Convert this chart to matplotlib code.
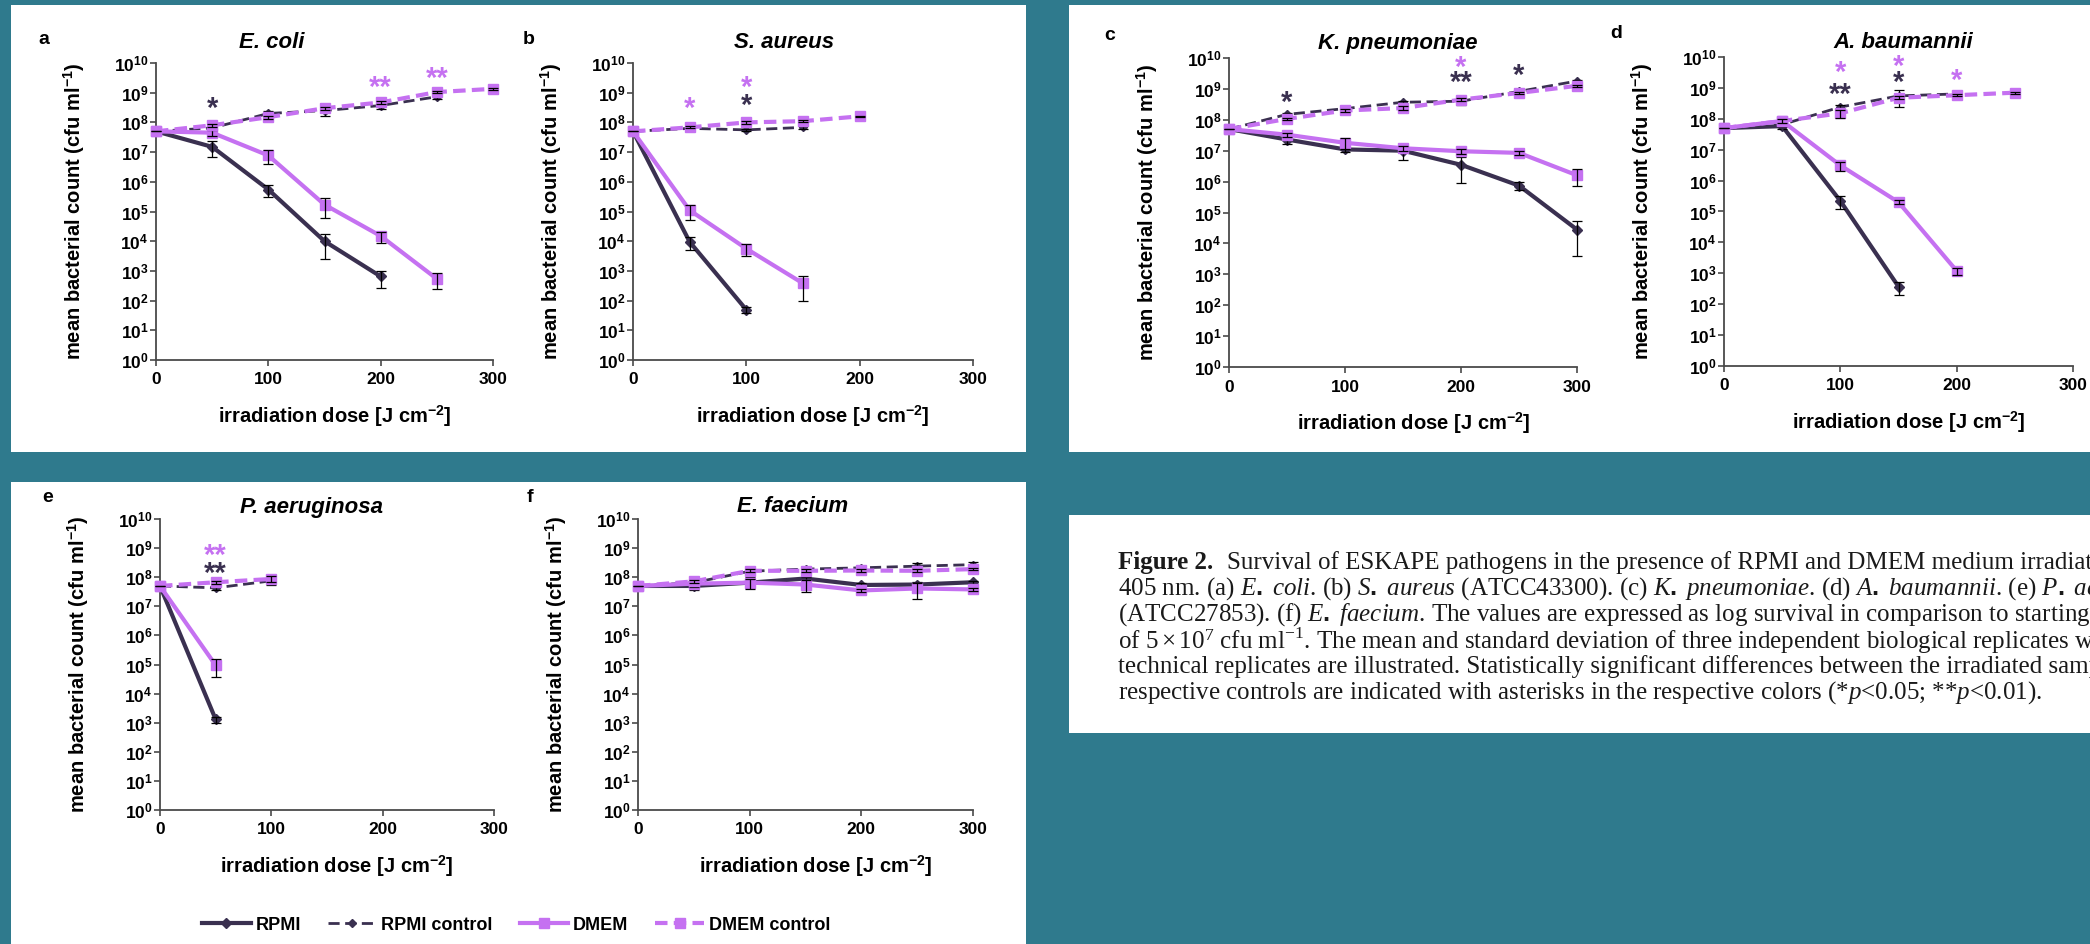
import numpy as np
import matplotlib
matplotlib.use('Agg')
import matplotlib.pyplot as plt
from matplotlib.patches import Rectangle
from matplotlib.ticker import FixedLocator, FuncFormatter, NullLocator

# irradiation doses [J cm-2]
dose = [0, 50, 100, 150, 200, 250, 300]

# (a) E. coli
ecoli_rpmi = [5e7, 1.5e7, 5.5e5, 1.0e4, 6.5e2]
ecoli_rpmi_sd = [0, 0.8e7, 2.5e5, 0.75e4, 3.8e2]
ecoli_rpmi_ctrl = [5e7, 6.5e7, 2.0e8, 2.5e8, 3.7e8, 7.3e8]
ecoli_rpmi_ctrl_sd = [0, 1e7, 0.5e8, 0.8e8, 0.8e8, 1.2e8]
ecoli_dmem = [5e7, 4.5e7, 7.7e6, 1.7e5, 1.5e4, 5.4e2]
ecoli_dmem_sd = [0, 1e7, 3.8e6, 1.1e5, 0.6e4, 2.9e2]
ecoli_dmem_ctrl = [5e7, 8.0e7, 1.5e8, 3.0e8, 4.7e8, 1.05e9, 1.35e9]
ecoli_dmem_ctrl_sd = [0, 1e7, 2e7, 4e7, 6e7, 1e8, 1e8]
ecoli_stars = [(50, 8.65, '*', 0), (200, 9.38, '**', 1), (250, 9.66, '**', 1)]

# (b) S. aureus
saur_rpmi = [5e7, 9.5e3, 49]
saur_rpmi_sd = [0, 4.5e3, 10]
saur_rpmi_ctrl = [5e7, 6.3e7, 5.6e7, 6.8e7]
saur_rpmi_ctrl_sd = [0, 5e6, 5e6, 8e6]
saur_dmem = [5e7, 1.1e5, 5.6e3, 3.8e2]
saur_dmem_sd = [0, 6e4, 2.4e3, 2.8e2]
saur_dmem_ctrl = [5e7, 6.8e7, 1.0e8, 1.1e8, 1.6e8]
saur_dmem_ctrl_sd = [0, 5e6, 1e7, 1e7, 1e7]
saur_stars = [(50, 8.67, '*', 1), (100, 9.37, '*', 1), (100, 8.76, '*', 0)]

# (c) K. pneumoniae
kpn_rpmi = [5e7, 2.3e7, 1.1e7, 1.0e7, 3.5e6, 7.4e5, 2.8e4]
kpn_rpmi_sd = [0, 0.6e7, 0.2e7, 0.5e7, 2.6e6, 2e5, 2.4e4]
kpn_rpmi_ctrl = [5e7, 1.5e8, 2.3e8, 3.7e8, 4.0e8, 8.3e8, 1.8e9]
kpn_rpmi_ctrl_sd = [0, 2e7, 3e7, 5e7, 1e8, 1e8, 2e8]
kpn_dmem = [5e7, 3.3e7, 1.8e7, 1.2e7, 9.6e6, 8.5e6, 1.6e6]
kpn_dmem_sd = [0, 0.5e7, 0.7e7, 0.2e7, 0.2e7, 0.15e7, 0.9e6]
kpn_dmem_ctrl = [5e7, 1.07e8, 2.0e8, 2.4e8, 4.5e8, 7.4e8, 1.26e9]
kpn_dmem_ctrl_sd = [0, 1e7, 2e7, 3e7, 5e7, 5e7, 1e8]
kpn_stars = [(50, 8.74, '*', 0), (200, 9.89, '*', 1), (200, 9.41, '**', 0), (250, 9.62, '*', 0)]

# (d) A. baumannii
abau_rpmi = [5e7, 5.8e7, 2.2e5, 3.7e2]
abau_rpmi_sd = [0, 1e7, 1e5, 1.7e2]
abau_rpmi_ctrl = [5e7, 6.5e7, 2.4e8, 5.5e8, 6.4e8]
abau_rpmi_ctrl_sd = [0, 1e7, 3e7, 3e8, 5e7]
abau_dmem = [5e7, 8.5e7, 3.1e6, 2.0e5, 1.2e3]
abau_dmem_sd = [0, 1e7, 1e6, 3e4, 3e2]
abau_dmem_ctrl = [5e7, 8.5e7, 1.5e8, 4.8e8, 5.8e8, 7.0e8]
abau_dmem_ctrl_sd = [0, 1e7, 4e7, 5e7, 5e7, 5e7]
abau_stars = [(100, 9.68, '*', 1), (100, 8.99, '**', 0), (150, 9.87, '*', 1),
              (150, 9.36, '*', 0), (200, 9.42, '*', 1)]

# (e) P. aeruginosa
paer_rpmi = [5e7, 1.3e3]
paer_rpmi_sd = [0, 3e2]
paer_rpmi_ctrl = [5e7, 4.3e7, 7.5e7]
paer_rpmi_ctrl_sd = [0, 8e6, 2e7]
paer_dmem = [5e7, 9.4e4]
paer_dmem_sd = [0, 5.8e4]
paer_dmem_ctrl = [5e7, 6.7e7, 8.7e7]
paer_dmem_ctrl_sd = [0, 1e7, 2e7]
paer_stars = [(50, 8.95, '**', 1), (50, 8.34, '**', 0)]

# (f) E. faecium
efm_rpmi = [5e7, 5.0e7, 6.5e7, 9.0e7, 5.4e7, 5.6e7, 6.7e7]
efm_rpmi_sd = [0, 1.5e7, 1e7, 1e7, 1e7, 1.5e7, 1e7]
efm_rpmi_ctrl = [5e7, 6.5e7, 1.6e8, 1.9e8, 2.1e8, 2.4e8, 2.7e8]
efm_rpmi_ctrl_sd = [0, 1e7, 6e7, 4e7, 4e7, 6e7, 6e7]
efm_dmem = [5e7, 6.0e7, 6.5e7, 5.6e7, 3.5e7, 4.1e7, 3.8e7]
efm_dmem_sd = [0, 1.5e7, 2.5e7, 2.5e7, 5e6, 2.3e7, 5e6]
efm_dmem_ctrl = [5e7, 7.2e7, 1.66e8, 1.66e8, 1.7e8, 1.66e8, 1.9e8]
efm_dmem_ctrl_sd = [0, 1e7, 2e7, 2e7, 2e7, 2e7, 2e7]

series_labels = ['RPMI', 'RPMI control', 'DMEM', 'DMEM control']

TEAL = '#2F7A8D'
DARK = '#3A3050'
MAG = '#C571F1'

plt.rcParams['font.family'] = 'Liberation Sans'
plt.rcParams['mathtext.fontset'] = 'custom'
plt.rcParams['mathtext.rm'] = 'Liberation Sans:bold'
plt.rcParams['mathtext.bf'] = 'Liberation Sans:bold'
plt.rcParams['mathtext.sf'] = 'Liberation Serif'
plt.rcParams['mathtext.it'] = 'Liberation Serif:italic'
plt.rcParams['mathtext.default'] = 'rm'
plt.rcParams['lines.scale_dashes'] = False

W, H = 2090, 944
fig = plt.figure(figsize=(W / 100, H / 100), dpi=100)
fig.patch.set_facecolor(TEAL)


def box(l, t, r, b):
    fig.add_artist(Rectangle((l / W, 1 - b / H), (r - l) / W, (b - t) / H,
                             transform=fig.transFigure, facecolor='white',
                             edgecolor='none', zorder=-1))


box(11, 5, 1026, 452)
box(1069, 5, 2090, 452)
box(11, 482, 1026, 944)
box(1069, 515, 2090, 733)

# letter, title, axes (l, t, r, b) px, title x px, title y px, letter xy px
panels = [
    ('a', 'E. coli', (156, 63, 493, 360), 272, 42, (44, 40),
     [ecoli_rpmi, ecoli_rpmi_ctrl, ecoli_dmem, ecoli_dmem_ctrl],
     [ecoli_rpmi_sd, ecoli_rpmi_ctrl_sd, ecoli_dmem_sd, ecoli_dmem_ctrl_sd], ecoli_stars),
    ('b', 'S. aureus', (633, 63, 973, 360), 784, 42, (529, 40),
     [saur_rpmi, saur_rpmi_ctrl, saur_dmem, saur_dmem_ctrl],
     [saur_rpmi_sd, saur_rpmi_ctrl_sd, saur_dmem_sd, saur_dmem_ctrl_sd], saur_stars),
    ('c', 'K. pneumoniae', (1229, 58, 1577, 367), 1398, 43, (1110, 35),
     [kpn_rpmi, kpn_rpmi_ctrl, kpn_dmem, kpn_dmem_ctrl],
     [kpn_rpmi_sd, kpn_rpmi_ctrl_sd, kpn_dmem_sd, kpn_dmem_ctrl_sd], kpn_stars),
    ('d', 'A. baumannii', (1724, 57, 2073, 366), 1903, 43, (1616, 33),
     [abau_rpmi, abau_rpmi_ctrl, abau_dmem, abau_dmem_ctrl],
     [abau_rpmi_sd, abau_rpmi_ctrl_sd, abau_dmem_sd, abau_dmem_ctrl_sd], abau_stars),
    ('e', 'P. aeruginosa', (160, 519, 494, 810), 312, 507, (48, 497),
     [paer_rpmi, paer_rpmi_ctrl, paer_dmem, paer_dmem_ctrl],
     [paer_rpmi_sd, paer_rpmi_ctrl_sd, paer_dmem_sd, paer_dmem_ctrl_sd], paer_stars),
    ('f', 'E. faecium', (638, 519, 973, 810), 793, 507, (530, 497),
     [efm_rpmi, efm_rpmi_ctrl, efm_dmem, efm_dmem_ctrl],
     [efm_rpmi_sd, efm_rpmi_ctrl_sd, efm_dmem_sd, efm_dmem_ctrl_sd], []),
]

styles = [
    dict(color=DARK, lw=3.0, ls='-', marker='D', ms=5.5),
    dict(color=DARK, lw=2.0, ls=(0, (8, 4)), marker='D', ms=4.5),
    dict(color=MAG, lw=3.0, ls='-', marker='s', ms=7.5),
    dict(color=MAG, lw=3.0, ls=(0, (9, 4.5)), marker='s', ms=7.5),
]
star_colors = [DARK, MAG]

handles = None
for letter, title, (l, t, r, b), tx, ty, (lx, ly), ys, sds, stars in panels:
    ax = fig.add_axes([l / W, 1 - b / H, (r - l) / W, (b - t) / H])
    lines = []
    for k, (y, sd, st) in enumerate(zip(ys, sds, styles)):
        x = dose[:len(y)]
        ln, = ax.plot(x, y, color=st['color'], lw=st['lw'], ls=st['ls'],
                      marker=st['marker'], ms=st['ms'], mfc=st['color'],
                      mec=st['color'], zorder=2 + k, clip_on=False)
        ax.errorbar(x, y, yerr=sd, fmt='none', ecolor='black', elinewidth=0.9,
                    capsize=3.5, capthick=0.9, zorder=2.5 + k, clip_on=False)
        lines.append(ln)
    if handles is None:
        handles = lines
    # significance asterisks (glyph sits high, so nudge down a bit)
    for sx, sy, s, c in stars:
        ax.annotate(s, (sx, 10 ** sy), xytext=(0, -4.5), textcoords='offset points',
                    color=star_colors[c], ha='center', va='center',
                    fontsize=21, fontweight='bold')

    ax.set_yscale('log')
    ax.set_ylim(1, 1e10)
    ax.set_xlim(0, 300)
    ax.yaxis.set_major_locator(FixedLocator([10.0 ** k for k in range(11)]))
    ax.yaxis.set_minor_locator(NullLocator())
    ax.yaxis.set_major_formatter(FuncFormatter(lambda v, p: r'$10^{%d}$' % round(np.log10(v))))
    ax.set_xticks([0, 100, 200, 300])
    for s in ['top', 'right']:
        ax.spines[s].set_visible(False)
    for s in ['left', 'bottom']:
        ax.spines[s].set_color('#4a4a4a')
        ax.spines[s].set_linewidth(1.3)
    ax.tick_params(axis='both', direction='out', length=4, width=1.2, color='#4a4a4a',
                   labelsize=12.5)
    ax.tick_params(axis='x', pad=5)
    ax.tick_params(axis='y', pad=1.5)
    for lab in ax.get_xticklabels():
        lab.set_fontweight('bold')
    ax.set_xlabel(r'irradiation dose [J cm$^{-2}$]', fontsize=14.5, fontweight='bold', va='center')
    ax.xaxis.set_label_coords(0.53, -56 / (b - t))
    ax.set_ylabel(r'mean bacterial count (cfu ml$^{-1}$)', fontsize=14.5, fontweight='bold', va='center')
    ax.yaxis.set_label_coords(-82 / (r - l), 0.5)

    fig.text(tx / W, 1 - ty / H, title, fontsize=16, fontweight='bold', style='italic',
             ha='center', va='center')
    fig.text(lx / W, 1 - ly / H, letter, fontsize=14, fontweight='bold',
             ha='center', va='center')

fig.legend(handles, series_labels, loc='center', bbox_to_anchor=(516 / W, 1 - 925 / H),
           ncol=4, frameon=False, prop={'weight': 'bold', 'size': 13},
           handlelength=2.7, handletextpad=0.25, columnspacing=1.5, borderpad=0)

# caption, runs off the right edge like the source page
cap_x = 1118
cap_y0 = 563
cap_dy = 26
cap_kw = dict(fontsize=18, family='Liberation Serif', va='center', ha='left', color='#1a1a1a')
caption = [
    None,
    r'405 nm. (a) $\mathit{E.\ coli}$. (b) $\mathit{S.\ aureus}$ (ATCC43300). (c) $\mathit{K.\ pneumoniae}$. '
    r'(d) $\mathit{A.\ baumannii}$. (e) $\mathit{P.\ aeruginosa}$',
    r'(ATCC27853). (f) $\mathit{E.\ faecium}$. The values are expressed as log survival in comparison to starting concentration',
    r'of $\mathsf{5\times10^{7}}$ cfu ml$^{\mathsf{-1}}$. The mean and standard deviation of three independent biological replicates with each two',
    'technical replicates are illustrated. Statistically significant differences between the irradiated samples and their',
    r'respective controls are indicated with asterisks in the respective colors (*$\mathit{p}$<0.05; **$\mathit{p}$<0.01).',
]
t1 = fig.text(cap_x / W, 1 - cap_y0 / H, 'Figure 2.', fontweight='bold', **cap_kw)
fig.text(0, 0, '', **cap_kw)
plt.annotate('Survival of ESKAPE pathogens in the presence of RPMI and DMEM medium irradiated with',
             xy=(1, 0.5), xycoords=t1, xytext=(10, 0), textcoords='offset points',
             annotation_clip=False, **cap_kw)
for i, line in enumerate(caption):
    if line is None:
        continue
    fig.text(cap_x / W, 1 - (cap_y0 + i * cap_dy) / H, line, **cap_kw)

fig.savefig('out.png', dpi=100, facecolor=fig.get_facecolor())
